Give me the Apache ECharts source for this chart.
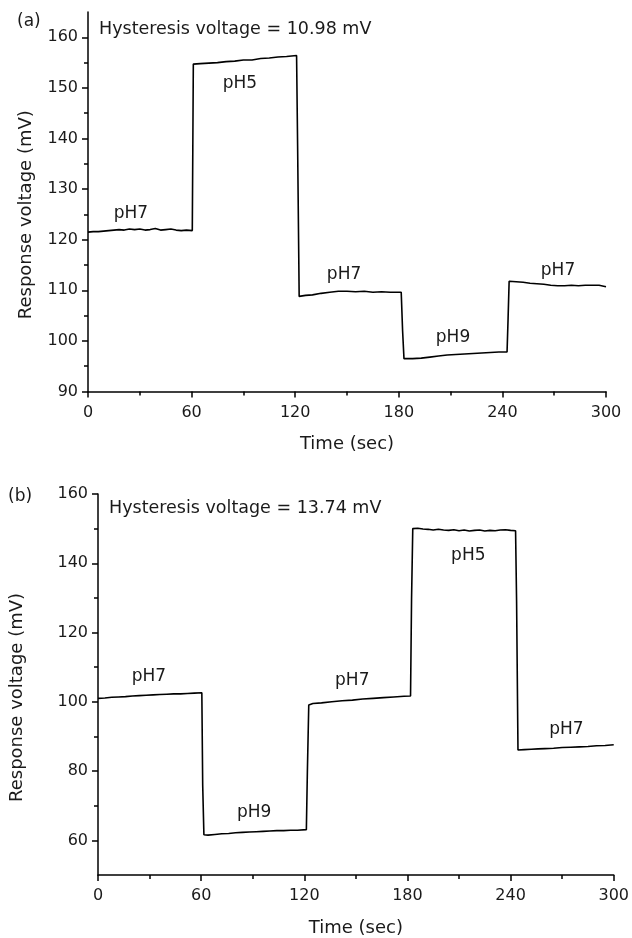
<!DOCTYPE html>
<html>
<head>
<meta charset="utf-8">
<script src="https://cdn.jsdelivr.net/npm/echarts@6/dist/echarts.min.js"></script>
<style>
html,body{margin:0;padding:0;background:#fff;}
#chart{width:632px;height:938px;}
</style>
</head>
<body>
<div id="chart"></div>
<script>
// ---------- Data: panel (a) ----------
const timeA = [
  0, 3, 6, 9, 12, 15, 18, 21, 24, 27, 30, 33, 36, 39, 42, 45, 48, 51, 54, 57, 60.4,
  60.7,
  61.0, 65, 70, 75, 80, 85, 90, 95, 100, 105, 110, 115, 120.8,
  121.4,
  122.3, 126, 130, 135, 140, 145, 150, 155, 160, 165, 170, 175, 181.4,
  182.2,
  183.0, 188, 193, 198, 203, 208, 213, 218, 223, 228, 233, 238, 242.7,
  243.3,
  243.9, 248, 252, 256, 260, 264, 268, 272, 276, 280, 284, 288, 292, 296, 300
];
const voltA = [
  121.5, 121.6, 121.6, 121.7, 121.8, 121.9, 122.0, 121.9, 122.1, 122.0, 122.1, 121.9, 122.0, 122.2, 121.9, 122.0, 122.1, 121.9, 121.8, 121.9, 121.8,
  138.0,
  154.7, 154.8, 154.9, 155.0, 155.2, 155.3, 155.5, 155.5, 155.8, 155.9, 156.1, 156.2, 156.4,
  138.5,
  108.8, 109.0, 109.1, 109.4, 109.6, 109.8, 109.8, 109.7, 109.8, 109.6, 109.7, 109.6, 109.6,
  102.0,
  96.5, 96.5, 96.6, 96.8, 97.0, 97.2, 97.3, 97.4, 97.5, 97.6, 97.7, 97.8, 97.8,
  104.5,
  111.8, 111.7, 111.6, 111.4, 111.3, 111.2, 111.0, 110.9, 110.9, 111.0, 110.9, 111.0, 111.0, 111.0, 110.7
];

// ---------- Data: panel (b) ----------
const timeB = [
  0, 4, 8, 12, 16, 20, 24, 28, 32, 36, 40, 44, 48, 52, 56, 60.4,
  60.9,
  61.6, 64, 68, 72, 76, 80, 84, 88, 92, 96, 100, 104, 108, 112, 116, 121.2,
  121.8,
  122.6, 125, 130, 136, 142, 148, 154, 160, 166, 172, 178, 181.8,
  182.4,
  183.1, 186, 189, 192, 195, 198, 201, 204, 207, 210, 213, 216, 219, 222, 225, 228, 231, 234, 237, 240, 242.9,
  243.5,
  244.3, 248, 252, 256, 260, 265, 270, 275, 280, 285, 290, 295, 300
];
const voltB = [
  101.0, 101.1, 101.3, 101.4, 101.5, 101.7, 101.8, 101.9, 102.0, 102.1, 102.2, 102.3, 102.3, 102.4, 102.5, 102.6,
  76.0,
  61.6, 61.5, 61.7, 61.9, 62.0, 62.2, 62.3, 62.4, 62.5, 62.6, 62.7, 62.8, 62.8, 62.9, 62.9, 63.1,
  80.0,
  99.1, 99.5, 99.7, 100.0, 100.3, 100.5, 100.8, 101.0, 101.2, 101.4, 101.6, 101.7,
  130.0,
  150.0, 150.1, 149.9, 149.8, 149.6, 149.8, 149.6, 149.5, 149.7, 149.4, 149.6, 149.3, 149.5, 149.6, 149.3, 149.5, 149.4, 149.6, 149.7, 149.5, 149.4,
  128.7,
  86.1, 86.2, 86.3, 86.4, 86.5, 86.6, 86.8, 86.9, 87.0, 87.1, 87.3, 87.4, 87.6
];

// ---------- Tick labels ----------
const xTicks = [0, 60, 120, 180, 240, 300];
const xMinorTicks = [30, 90, 150, 210, 270];
const yTicksA = [90, 100, 110, 120, 130, 140, 150, 160];
const yMinorTicksA = [95, 105, 115, 125, 135, 145, 155];
const yTicksB = [60, 80, 100, 120, 140, 160];
const yMinorTicksB = [70, 90, 110, 130, 150];

// ---------- Annotations ----------
const labelsA = [
  {text: 'pH7', t: 24.9, v: 125.2},
  {text: 'pH5', t: 88.0, v: 150.8},
  {text: 'pH7', t: 148.3, v: 113.2},
  {text: 'pH9', t: 211.4, v: 100.6},
  {text: 'pH7', t: 272.2, v: 113.8}
];
const labelsB = [
  {text: 'pH7', t: 29.6, v: 107.4},
  {text: 'pH9', t: 90.8, v: 68.1},
  {text: 'pH7', t: 147.9, v: 106.2},
  {text: 'pH5', t: 215.4, v: 142.2},
  {text: 'pH7', t: 272.5, v: 92.1}
];
const panelTitles = ['(a)', '(b)'];
const hysteresis = ['Hysteresis voltage = 10.98 mV', 'Hysteresis voltage = 13.74 mV'];

const FONT = 'DejaVu Sans';
const TXT = '#1a1a1a';

function pairs(t, v) { return t.map((x, i) => [x, v[i]]); }

function mainX(gridIndex) {
  return {
    type: 'value', gridIndex, min: 0, max: 300, interval: 60,
    name: 'Time (sec)', nameLocation: 'middle', nameGap: 44,
    nameTextStyle: {fontFamily: FONT, fontSize: 18, color: TXT},
    axisLine: {show: true, lineStyle: {color: '#000', width: 1.5}},
    axisTick: {show: true, length: 6, lineStyle: {color: '#000', width: 1.5}, customValues: xTicks},
    axisLabel: {fontFamily: FONT, fontSize: 16, color: TXT, margin: 13, customValues: xTicks},
    splitLine: {show: false}
  };
}
function minorX(gridIndex) {
  return {
    type: 'value', gridIndex, min: 0, max: 300, position: 'bottom',
    axisLine: {show: false},
    axisTick: {show: true, length: 4, lineStyle: {color: '#000', width: 1.5}, customValues: xMinorTicks},
    axisLabel: {show: false},
    splitLine: {show: false}
  };
}
function mainY(gridIndex, min, max, ticks, gap) {
  return {
    type: 'value', gridIndex, min, max,
    name: 'Response voltage (mV)', nameLocation: 'middle', nameGap: gap, nameRotate: 90,
    nameTextStyle: {fontFamily: FONT, fontSize: 18, color: TXT, padding: [0, 26, 0, 0]},
    axisLine: {show: true, lineStyle: {color: '#000', width: 1.5}},
    axisTick: {show: true, length: 6, lineStyle: {color: '#000', width: 1.5}, customValues: ticks},
    axisLabel: {fontFamily: FONT, fontSize: 16, color: TXT, margin: 10, customValues: ticks},
    splitLine: {show: false}
  };
}
function minorY(gridIndex, min, max, ticks) {
  return {
    type: 'value', gridIndex, min, max, position: 'left',
    axisLine: {show: false},
    axisTick: {show: true, length: 4, lineStyle: {color: '#000', width: 1.5}, customValues: ticks},
    axisLabel: {show: false},
    splitLine: {show: false}
  };
}
function annot(list) {
  return {
    symbol: 'circle', symbolSize: 0,
    itemStyle: {color: 'transparent'},
    label: {show: true, position: 'inside', fontFamily: FONT, fontSize: 17, color: TXT,
            formatter: p => p.name},
    data: list.map(l => ({name: l.text, coord: [l.t, l.v]}))
  };
}

const chart = echarts.init(document.getElementById('chart'), null, {renderer: 'canvas'});
chart.setOption({
  backgroundColor: '#fff',
  animation: false,
  grid: [
    {left: 88, right: 26, top: 12, bottom: 546.5, containLabel: false},
    {left: 96.7, right: 15.3, top: 494, bottom: 61.3, containLabel: false}
  ],
  xAxis: [mainX(0), minorX(0), mainX(1), minorX(1)],
  yAxis: [
    mainY(0, 90, 165, yTicksA, 53),
    minorY(0, 90, 165, yMinorTicksA),
    mainY(1, 50, 160, yTicksB, 72),
    minorY(1, 50, 160, yMinorTicksB)
  ],
  graphic: [
    {type: 'text', x: 17, y: 22, style: {text: panelTitles[0], font: '17px "DejaVu Sans"', fill: TXT, textVerticalAlign: 'middle'}},
    {type: 'text', x: 99, y: 29, style: {text: hysteresis[0], font: '17.5px "DejaVu Sans"', fill: TXT, textVerticalAlign: 'middle'}},
    {type: 'text', x: 8, y: 497, style: {text: panelTitles[1], font: '17px "DejaVu Sans"', fill: TXT, textVerticalAlign: 'middle'}},
    {type: 'text', x: 109, y: 508, style: {text: hysteresis[1], font: '17.5px "DejaVu Sans"', fill: TXT, textVerticalAlign: 'middle'}}
  ],
  series: [
    {
      type: 'line', xAxisIndex: 0, yAxisIndex: 0,
      data: pairs(timeA, voltA), showSymbol: false, symbol: 'none',
      lineStyle: {color: '#000', width: 1.6}, markPoint: annot(labelsA)
    },
    {
      type: 'line', xAxisIndex: 2, yAxisIndex: 2,
      data: pairs(timeB, voltB), showSymbol: false, symbol: 'none',
      lineStyle: {color: '#000', width: 1.6}, markPoint: annot(labelsB)
    }
  ]
});
</script>
</body>
</html>
